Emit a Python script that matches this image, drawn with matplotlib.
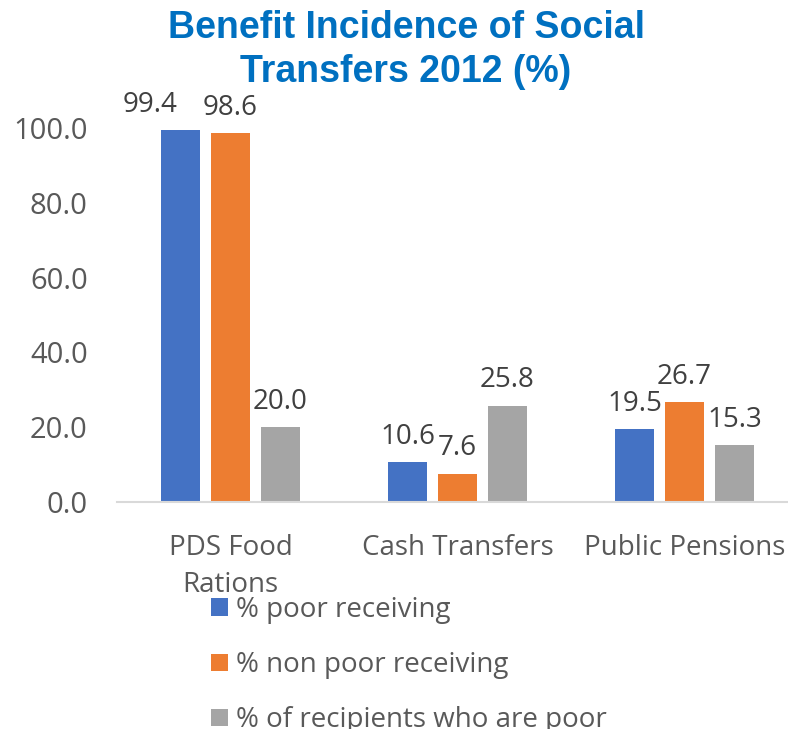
import matplotlib.pyplot as plt
import numpy as np

# benefit incidence by programme, 2012
categories = ['PDS Food\nRations', 'Cash Transfers', 'Public Pensions']
poor_receiving = [99.4, 10.6, 19.5]
nonpoor_receiving = [98.6, 7.6, 26.7]
recipients_poor = [20.0, 25.8, 15.3]
series_names = ['% poor receiving', '% non poor receiving', '% of recipients who are poor']
colors = ['#4472C4', '#ED7D31', '#A5A5A5']
yticks = [0, 20, 40, 60, 80, 100]

plt.rcParams['font.family'] = ['Open Sans', 'DejaVu Sans']

W, H = 788, 729
fig = plt.figure(figsize=(W / 100, H / 100), dpi=100)
ax = fig.add_axes([117 / W, 1 - 502 / H, 1 - 117 / W, (502 - 128) / H])

x = np.arange(len(categories))
width = 0.172
pitch = 0.22
series = [poor_receiving, nonpoor_receiving, recipients_poor]
# small horizontal nudges so labels don't collide
label_dx = [[-30, 0, 0], [0, 0, 0], [0, 0, 0]]

for i, (vals, c, name) in enumerate(zip(series, colors, series_names)):
    pos = x + (i - 1) * pitch
    bars = ax.bar(pos, vals, width, color=c, label=name)
    for j, (b, v) in enumerate(zip(bars, vals)):
        ax.annotate(f'{v:.1f}', (b.get_x() + b.get_width() / 2, v),
                    xytext=(label_dx[i][j] * 0.72, 8), textcoords='offset points',
                    ha='center', va='bottom', fontsize=20, color='#404040',
                    annotation_clip=False)

ax.set_xlim(-0.5, -0.5 + (W - 117) / 227)
ax.set_ylim(0, 100)
ax.set_yticks(yticks)
ax.set_yticklabels([f'{t:.1f}' for t in yticks], fontsize=21, color='#595959')
ax.set_xticks(x)
ax.set_xticklabels(categories, fontsize=20, color='#595959', linespacing=1.45)
ax.tick_params(length=0)
ax.tick_params(axis='x', pad=23)
ax.tick_params(axis='y', pad=21)
for s in ['top', 'right', 'left']:
    ax.spines[s].set_visible(False)
ax.spines['bottom'].set_color('#D9D9D9')
ax.spines['bottom'].set_linewidth(1.5)

fig.text(406 / W, 1 - 50 / H, 'Benefit Incidence of Social\nTransfers 2012 (%)',
         ha='center', va='center', fontsize=27, fontweight='bold', color='#0070C0',
         family='Liberation Sans', linespacing=1.3)

leg = fig.legend(loc='upper left', bbox_to_anchor=(186 / W, 1 - 571 / H),
                 frameon=False, fontsize=20, labelspacing=0.98,
                 handlelength=0.6, handleheight=0.6, handletextpad=0.3)
for t in leg.get_texts():
    t.set_color('#595959')

fig.savefig('out.png', dpi=100)
